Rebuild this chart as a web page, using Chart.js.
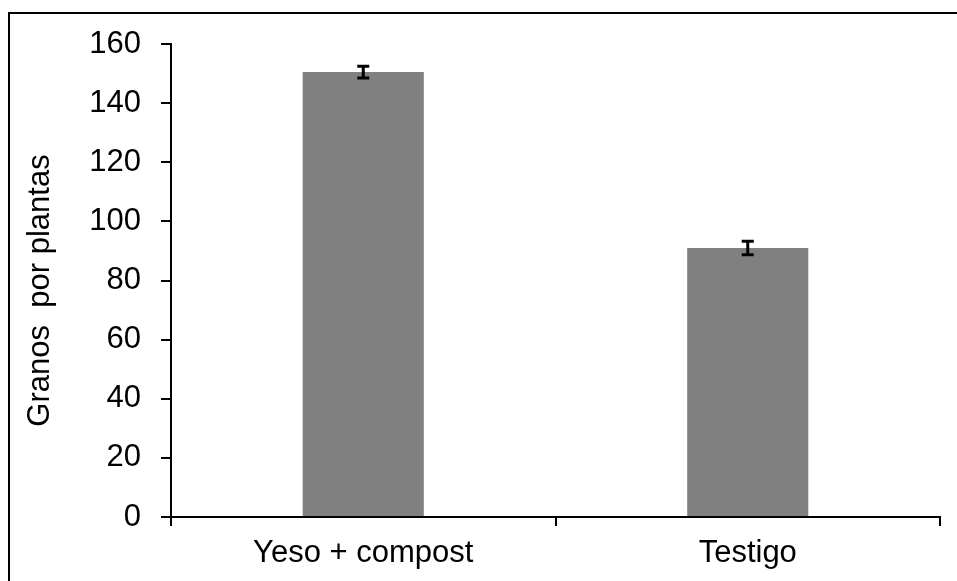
<!DOCTYPE html>
<html>
<head>
<meta charset="utf-8">
<script src="https://cdn.jsdelivr.net/npm/chart.js@4/dist/chart.umd.min.js"></script>
<style>
    html, body { margin: 0; padding: 0; background: #ffffff; }
    #wrap { position: relative; width: 957px; height: 581px; }
</style>
</head>
<body>
<div id="wrap"><canvas id="chart" width="957" height="581"></canvas></div>
<script>
const categories = ["Yeso + compost", "Testigo"];
const means = [150.5, 91];
const errors = [2, 2.3];
const yTicks = [0, 20, 40, 60, 80, 100, 120, 140, 160];
const yTitle = "Granos  por plantas";

const fontFamily = "'Liberation Sans', Arial, sans-serif";

const frameLines = {
    id: "frameLines",
    afterDraw(chart) {
        const ctx = chart.ctx;
        ctx.save();
        ctx.strokeStyle = "#000000";
        ctx.lineWidth = 2;
        ctx.beginPath();
        ctx.moveTo(9, chart.height);
        ctx.lineTo(9, 13);
        ctx.lineTo(chart.width, 13);
        ctx.stroke();

        // y axis title, sits a little below the plot centre like the original
        ctx.translate(40, chart.chartArea.top + chart.chartArea.height / 2 + 10);
        ctx.rotate(-Math.PI / 2);
        ctx.fillStyle = "#000000";
        ctx.font = `31px ${fontFamily}`;
        ctx.textAlign = "center";
        ctx.textBaseline = "middle";
        ctx.fillText(yTitle, 0, 0);
        ctx.restore();
    }
};

const errorBars = {
    id: "errorBars",
    afterDatasetsDraw(chart) {
        const ctx = chart.ctx;
        const meta = chart.getDatasetMeta(0);
        const y = chart.scales.y;
        ctx.save();
        ctx.strokeStyle = "#000000";
        ctx.lineWidth = 3;
        meta.data.forEach((bar, i) => {
            const top = y.getPixelForValue(means[i] + errors[i]);
            const bottom = y.getPixelForValue(means[i] - errors[i]);
            ctx.beginPath();
            ctx.moveTo(bar.x, top);
            ctx.lineTo(bar.x, bottom);
            ctx.moveTo(bar.x - 6, top);
            ctx.lineTo(bar.x + 6, top);
            ctx.moveTo(bar.x - 6, bottom);
            ctx.lineTo(bar.x + 6, bottom);
            ctx.stroke();
        });
        ctx.restore();
    }
};

new Chart(document.getElementById("chart"), {
    type: "bar",
    data: {
        labels: categories,
        datasets: [{
            data: means,
            backgroundColor: "#808080",
            borderWidth: 0,
            categoryPercentage: 1,
            barPercentage: 0.315
        }]
    },
    options: {
        responsive: false,
        animation: false,
        layout: {
            padding: { top: 44, right: 17, bottom: 0, left: 0 }
        },
        plugins: {
            legend: { display: false },
            tooltip: { enabled: false }
        },
        scales: {
            x: {
                offset: true,
                grid: {
                    offset: true,
                    drawOnChartArea: false,
                    drawTicks: true,
                    tickLength: 9,
                    color: "#000000",
                    lineWidth: 2
                },
                border: { display: true, color: "#000000", width: 2 },
                ticks: {
                    color: "#000000",
                    padding: 9,
                    font: { family: fontFamily, size: 31 }
                },
                afterFit(scale) { scale.height = 64; }
            },
            y: {
                min: 0,
                max: 160,
                afterBuildTicks(scale) {
                    scale.ticks = yTicks.map(v => ({ value: v }));
                },
                grid: {
                    drawOnChartArea: false,
                    drawTicks: true,
                    tickLength: 10,
                    color: "#000000",
                    lineWidth: 2
                },
                border: { display: true, color: "#000000", width: 2 },
                ticks: {
                    color: "#000000",
                    padding: 20,
                    font: { family: fontFamily, size: 31 }
                },
                afterFit(scale) { scale.width = 171; }
            }
        }
    },
    plugins: [frameLines, errorBars]
});
</script>
</body>
</html>
